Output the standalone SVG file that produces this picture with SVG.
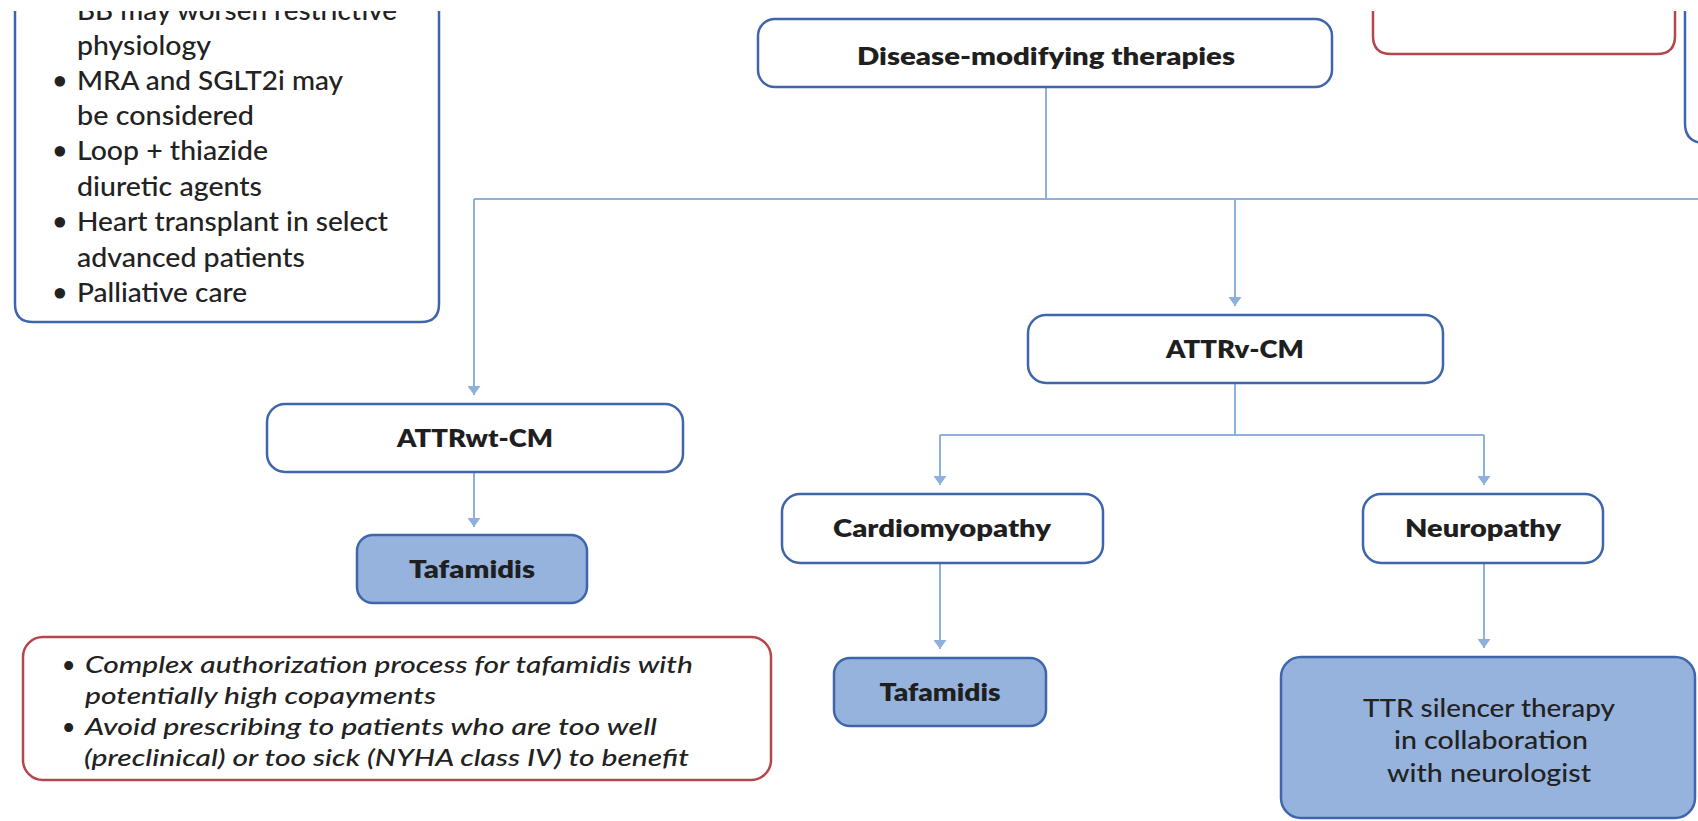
<svg xmlns="http://www.w3.org/2000/svg" width="1698" height="821" viewBox="0 0 1698 821">
<style>
.box{fill:#fff;stroke:#3f66ab;stroke-width:2.5}
.fill{fill:#95b3dd;stroke:#3f66ab;stroke-width:2.5}
.redbox{fill:#fff;stroke:#b4474c;stroke-width:2.5}
.edge{fill:none;stroke:#3f66ab;stroke-width:2.5}
.rededge{fill:none;stroke:#b4474c;stroke-width:2.5}
.lbl{font-family:Lato,"Open Sans",sans-serif;font-weight:800;font-size:25px;fill:#1f1f1f;text-anchor:middle}
.body{font-family:Lato,"Open Sans",sans-serif;font-weight:500;font-size:27px;fill:#222}
.ttr{font-family:Lato,"Open Sans",sans-serif;font-weight:500;font-size:25px;fill:#222;text-anchor:middle}
.ital{font-family:Lato,"Open Sans",sans-serif;font-weight:500;font-style:italic;font-size:23px;fill:#222}
.conn{fill:none;stroke:#8fb0dd;stroke-width:2}
</style>
<defs>
<marker id="ah" markerUnits="userSpaceOnUse" markerWidth="9" markerHeight="13" refX="9" refY="6.5" orient="auto">
<path d="M0,0 L9,6.5 L0,13 Z" fill="#8fb0dd"/>
</marker>
<clipPath id="top"><rect x="0" y="11" width="1698" height="810"/></clipPath>
</defs>
<rect width="1698" height="821" fill="#fff"/>

<g id="connectors" class="conn">
<path d="M1046,87 V199"/>
<path d="M474,199 H1698"/>
<path d="M474,199 V395" marker-end="url(#ah)"/>
<path d="M1235,199 V306" marker-end="url(#ah)"/>
<path d="M474,472 V527" marker-end="url(#ah)"/>
<path d="M1235,383 V435 M940,435 H1484"/>
<path d="M940,435 V485" marker-end="url(#ah)"/>
<path d="M1484,435 V485" marker-end="url(#ah)"/>
<path d="M940,563 V649" marker-end="url(#ah)"/>
<path d="M1484,563 V648" marker-end="url(#ah)"/>
</g>

<g id="management-box" clip-path="url(#top)">
<path class="edge" d="M15,0 V304 Q15,322 33,322 H421 Q439,322 439,304 V0"/>
<text class="body" x="77" y="20" textLength="320" lengthAdjust="spacingAndGlyphs">BB may worsen restrictive</text>
<text class="body" x="77" y="55" textLength="134" lengthAdjust="spacingAndGlyphs">physiology</text>
<text class="body" x="52" y="90">•</text>
<text class="body" x="77" y="90" textLength="266" lengthAdjust="spacingAndGlyphs">MRA and SGLT2i may</text>
<text class="body" x="77" y="125" textLength="177" lengthAdjust="spacingAndGlyphs">be considered</text>
<text class="body" x="52" y="160">•</text>
<text class="body" x="77" y="160" textLength="191" lengthAdjust="spacingAndGlyphs">Loop + thiazide</text>
<text class="body" x="77" y="196" textLength="185" lengthAdjust="spacingAndGlyphs">diuretic agents</text>
<text class="body" x="52" y="231">•</text>
<text class="body" x="77" y="231" textLength="311" lengthAdjust="spacingAndGlyphs">Heart transplant in select</text>
<text class="body" x="77" y="266.5" textLength="228" lengthAdjust="spacingAndGlyphs">advanced patients</text>
<text class="body" x="52" y="302">•</text>
<text class="body" x="77" y="302" textLength="170" lengthAdjust="spacingAndGlyphs">Palliative care</text>
</g>

<g id="top-red-box" clip-path="url(#top)">
<path class="rededge" d="M1373,0 V36 Q1373,54 1391,54 H1657 Q1675,54 1675,36 V0"/>
</g>

<g id="top-right-box" clip-path="url(#top)">
<path class="edge" d="M1685,0 V123 Q1685,143 1705,143"/>
</g>

<g id="disease-modifying">
<rect class="box" x="758" y="19" width="574" height="68" rx="17"/>
<text class="lbl" x="1046" y="65" textLength="378" lengthAdjust="spacingAndGlyphs">Disease-modifying therapies</text>
</g>

<g id="attrwt">
<rect class="box" x="267" y="404" width="416" height="68" rx="18"/>
<text class="lbl" x="475" y="447" textLength="156" lengthAdjust="spacingAndGlyphs">ATTRwt-CM</text>
</g>

<g id="tafamidis-wt">
<rect class="fill" x="357" y="535" width="230" height="68" rx="16"/>
<text class="lbl" x="472" y="578" textLength="126" lengthAdjust="spacingAndGlyphs">Tafamidis</text>
</g>

<g id="attrv">
<rect class="box" x="1028" y="315" width="415" height="68" rx="18"/>
<text class="lbl" x="1235" y="358" textLength="138" lengthAdjust="spacingAndGlyphs">ATTRv-CM</text>
</g>

<g id="cardiomyopathy">
<rect class="box" x="782" y="494" width="321" height="69" rx="18"/>
<text class="lbl" x="942" y="537" textLength="218" lengthAdjust="spacingAndGlyphs">Cardiomyopathy</text>
</g>

<g id="neuropathy">
<rect class="box" x="1363" y="494" width="240" height="69" rx="18"/>
<text class="lbl" x="1483" y="537" textLength="156" lengthAdjust="spacingAndGlyphs">Neuropathy</text>
</g>

<g id="tafamidis-v">
<rect class="fill" x="834" y="658" width="212" height="68" rx="16"/>
<text class="lbl" x="940" y="701" textLength="121" lengthAdjust="spacingAndGlyphs">Tafamidis</text>
</g>

<g id="ttr-silencer">
<rect class="fill" x="1281" y="657" width="414" height="161" rx="20"/>
<text class="ttr" x="1489" y="717" textLength="252" lengthAdjust="spacingAndGlyphs">TTR silencer therapy</text>
<text class="ttr" x="1491" y="749" textLength="194" lengthAdjust="spacingAndGlyphs">in collaboration</text>
<text class="ttr" x="1489" y="782" textLength="204" lengthAdjust="spacingAndGlyphs">with neurologist</text>
</g>

<g id="caution-box">
<rect class="redbox" x="23" y="637" width="748" height="143" rx="20"/>
<text class="ital" x="62" y="673">•</text>
<text class="ital" x="85" y="673" textLength="608" lengthAdjust="spacingAndGlyphs">Complex authorization process for tafamidis with</text>
<text class="ital" x="85" y="704" textLength="351" lengthAdjust="spacingAndGlyphs">potentially high copayments</text>
<text class="ital" x="62" y="735">•</text>
<text class="ital" x="85" y="735" textLength="572" lengthAdjust="spacingAndGlyphs">Avoid prescribing to patients who are too well</text>
<text class="ital" x="84" y="766" textLength="605" lengthAdjust="spacingAndGlyphs">(preclinical) or too sick (NYHA class IV) to benefit</text>
</g>
</svg>
